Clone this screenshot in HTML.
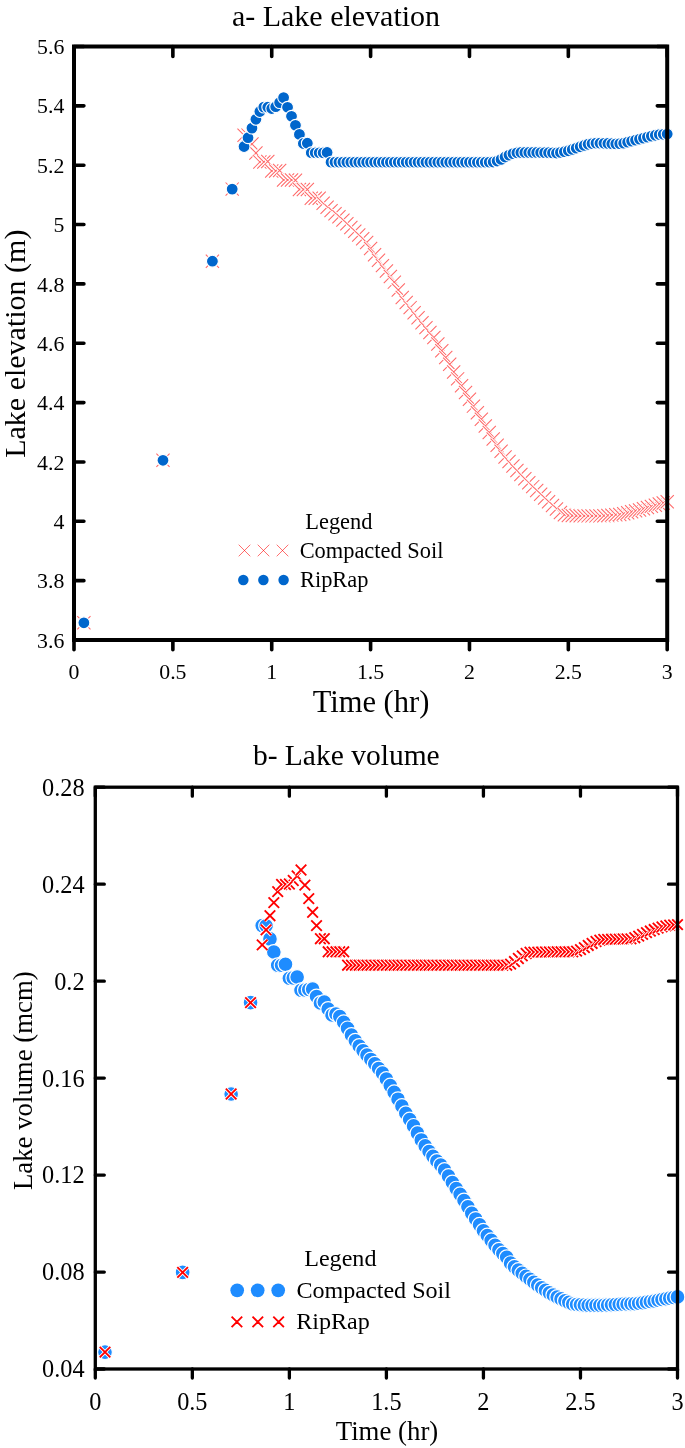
<!DOCTYPE html><html><head><meta charset="utf-8"><title>Lake elevation and volume</title><style>html,body{margin:0;padding:0;background:#fff;width:685px;height:1448px;overflow:hidden;}svg{display:block;will-change:transform;font-family:"Liberation Serif",serif;}</style></head><body><svg width="685" height="1448" viewBox="0 0 685 1448" font-family='"Liberation Serif", serif' fill="#000"><g fill="none"><path d="M77.29 616.2L90.49 629.4M77.29 629.4L90.49 616.2" stroke="#fff" stroke-width="3"/><path d="M77.29 616.2L90.49 629.4M77.29 629.4L90.49 616.2" stroke="rgba(255,0,0,0.6)" stroke-width="1.05"/><path d="M156.38 453.7L169.58 466.9M156.38 466.9L169.58 453.7" stroke="#fff" stroke-width="3"/><path d="M156.38 453.7L169.58 466.9M156.38 466.9L169.58 453.7" stroke="rgba(255,0,0,0.6)" stroke-width="1.05"/><path d="M205.81 254.6L219.01 267.8M205.81 267.8L219.01 254.6" stroke="#fff" stroke-width="3"/><path d="M205.81 254.6L219.01 267.8M205.81 267.8L219.01 254.6" stroke="rgba(255,0,0,0.6)" stroke-width="1.05"/><path d="M225.59 182.5L238.79 195.7M225.59 195.7L238.79 182.5" stroke="#fff" stroke-width="3"/><path d="M225.59 182.5L238.79 195.7M225.59 195.7L238.79 182.5" stroke="rgba(255,0,0,0.6)" stroke-width="1.05"/><path d="M237.45 128.7L250.65 141.9M237.45 141.9L250.65 128.7" stroke="#fff" stroke-width="3"/><path d="M237.45 128.7L250.65 141.9M237.45 141.9L250.65 128.7" stroke="rgba(255,0,0,0.6)" stroke-width="1.05"/><path d="M241.41 128.5L254.61 141.7M241.41 141.7L254.61 128.5" stroke="#fff" stroke-width="3"/><path d="M241.41 128.5L254.61 141.7M241.41 141.7L254.61 128.5" stroke="rgba(255,0,0,0.6)" stroke-width="1.05"/><path d="M245.36 137.4L258.56 150.6M245.36 150.6L258.56 137.4" stroke="#fff" stroke-width="3"/><path d="M245.36 137.4L258.56 150.6M245.36 150.6L258.56 137.4" stroke="rgba(255,0,0,0.6)" stroke-width="1.05"/><path d="M249.31 146.4L262.51 159.6M249.31 159.6L262.51 146.4" stroke="#fff" stroke-width="3"/><path d="M249.31 146.4L262.51 159.6M249.31 159.6L262.51 146.4" stroke="rgba(255,0,0,0.6)" stroke-width="1.05"/><path d="M253.27 155.4L266.47 168.6M253.27 168.6L266.47 155.4" stroke="#fff" stroke-width="3"/><path d="M253.27 155.4L266.47 168.6M253.27 168.6L266.47 155.4" stroke="rgba(255,0,0,0.6)" stroke-width="1.05"/><path d="M257.22 155.4L270.42 168.6M257.22 168.6L270.42 155.4" stroke="#fff" stroke-width="3"/><path d="M257.22 155.4L270.42 168.6M257.22 168.6L270.42 155.4" stroke="rgba(255,0,0,0.6)" stroke-width="1.05"/><path d="M261.18 154.9L274.38 168.1M261.18 168.1L274.38 154.9" stroke="#fff" stroke-width="3"/><path d="M261.18 154.9L274.38 168.1M261.18 168.1L274.38 154.9" stroke="rgba(255,0,0,0.6)" stroke-width="1.05"/><path d="M265.13 164.4L278.33 177.6M265.13 177.6L278.33 164.4" stroke="#fff" stroke-width="3"/><path d="M265.13 164.4L278.33 177.6M265.13 177.6L278.33 164.4" stroke="rgba(255,0,0,0.6)" stroke-width="1.05"/><path d="M269.09 164.4L282.29 177.6M269.09 177.6L282.29 164.4" stroke="#fff" stroke-width="3"/><path d="M269.09 164.4L282.29 177.6M269.09 177.6L282.29 164.4" stroke="rgba(255,0,0,0.6)" stroke-width="1.05"/><path d="M273.04 163.9L286.24 177.1M273.04 177.1L286.24 163.9" stroke="#fff" stroke-width="3"/><path d="M273.04 163.9L286.24 177.1M273.04 177.1L286.24 163.9" stroke="rgba(255,0,0,0.6)" stroke-width="1.05"/><path d="M277 173.4L290.2 186.6M277 186.6L290.2 173.4" stroke="#fff" stroke-width="3"/><path d="M277 173.4L290.2 186.6M277 186.6L290.2 173.4" stroke="rgba(255,0,0,0.6)" stroke-width="1.05"/><path d="M280.95 173.4L294.15 186.6M280.95 186.6L294.15 173.4" stroke="#fff" stroke-width="3"/><path d="M280.95 173.4L294.15 186.6M280.95 186.6L294.15 173.4" stroke="rgba(255,0,0,0.6)" stroke-width="1.05"/><path d="M284.91 173.4L298.11 186.6M284.91 186.6L298.11 173.4" stroke="#fff" stroke-width="3"/><path d="M284.91 173.4L298.11 186.6M284.91 186.6L298.11 173.4" stroke="rgba(255,0,0,0.6)" stroke-width="1.05"/><path d="M288.86 173.7L302.06 186.9M288.86 186.9L302.06 173.7" stroke="#fff" stroke-width="3"/><path d="M288.86 173.7L302.06 186.9M288.86 186.9L302.06 173.7" stroke="rgba(255,0,0,0.6)" stroke-width="1.05"/><path d="M292.82 182.9L306.02 196.1M292.82 196.1L306.02 182.9" stroke="#fff" stroke-width="3"/><path d="M292.82 182.9L306.02 196.1M292.82 196.1L306.02 182.9" stroke="rgba(255,0,0,0.6)" stroke-width="1.05"/><path d="M296.77 182.9L309.97 196.1M296.77 196.1L309.97 182.9" stroke="#fff" stroke-width="3"/><path d="M296.77 182.9L309.97 196.1M296.77 196.1L309.97 182.9" stroke="rgba(255,0,0,0.6)" stroke-width="1.05"/><path d="M300.73 182.9L313.93 196.1M300.73 196.1L313.93 182.9" stroke="#fff" stroke-width="3"/><path d="M300.73 182.9L313.93 196.1M300.73 196.1L313.93 182.9" stroke="rgba(255,0,0,0.6)" stroke-width="1.05"/><path d="M304.68 191.6L317.88 204.8M304.68 204.8L317.88 191.6" stroke="#fff" stroke-width="3"/><path d="M304.68 191.6L317.88 204.8M304.68 204.8L317.88 191.6" stroke="rgba(255,0,0,0.6)" stroke-width="1.05"/><path d="M308.63 191.6L321.83 204.8M308.63 204.8L321.83 191.6" stroke="#fff" stroke-width="3"/><path d="M308.63 191.6L321.83 204.8M308.63 204.8L321.83 191.6" stroke="rgba(255,0,0,0.6)" stroke-width="1.05"/><path d="M312.59 191.6L325.79 204.8M312.59 204.8L325.79 191.6" stroke="#fff" stroke-width="3"/><path d="M312.59 191.6L325.79 204.8M312.59 204.8L325.79 191.6" stroke="rgba(255,0,0,0.6)" stroke-width="1.05"/><path d="M316.54 196.62L329.74 209.82M316.54 209.82L329.74 196.62" stroke="#fff" stroke-width="3"/><path d="M316.54 196.62L329.74 209.82M316.54 209.82L329.74 196.62" stroke="rgba(255,0,0,0.6)" stroke-width="1.05"/><path d="M320.5 200.67L333.7 213.87M320.5 213.87L333.7 200.67" stroke="#fff" stroke-width="3"/><path d="M320.5 200.67L333.7 213.87M320.5 213.87L333.7 200.67" stroke="rgba(255,0,0,0.6)" stroke-width="1.05"/><path d="M324.45 204.02L337.65 217.22M324.45 217.22L337.65 204.02" stroke="#fff" stroke-width="3"/><path d="M324.45 204.02L337.65 217.22M324.45 217.22L337.65 204.02" stroke="rgba(255,0,0,0.6)" stroke-width="1.05"/><path d="M328.41 207.1L341.61 220.3M328.41 220.3L341.61 207.1" stroke="#fff" stroke-width="3"/><path d="M328.41 207.1L341.61 220.3M328.41 220.3L341.61 207.1" stroke="rgba(255,0,0,0.6)" stroke-width="1.05"/><path d="M332.36 210.18L345.56 223.38M332.36 223.38L345.56 210.18" stroke="#fff" stroke-width="3"/><path d="M332.36 210.18L345.56 223.38M332.36 223.38L345.56 210.18" stroke="rgba(255,0,0,0.6)" stroke-width="1.05"/><path d="M336.32 213.52L349.52 226.72M336.32 226.72L349.52 213.52" stroke="#fff" stroke-width="3"/><path d="M336.32 213.52L349.52 226.72M336.32 226.72L349.52 213.52" stroke="rgba(255,0,0,0.6)" stroke-width="1.05"/><path d="M340.27 217.24L353.47 230.44M340.27 230.44L353.47 217.24" stroke="#fff" stroke-width="3"/><path d="M340.27 217.24L353.47 230.44M340.27 230.44L353.47 217.24" stroke="rgba(255,0,0,0.6)" stroke-width="1.05"/><path d="M344.23 220.96L357.43 234.16M344.23 234.16L357.43 220.96" stroke="#fff" stroke-width="3"/><path d="M344.23 220.96L357.43 234.16M344.23 234.16L357.43 220.96" stroke="rgba(255,0,0,0.6)" stroke-width="1.05"/><path d="M348.18 224.68L361.38 237.88M348.18 237.88L361.38 224.68" stroke="#fff" stroke-width="3"/><path d="M348.18 224.68L361.38 237.88M348.18 237.88L361.38 224.68" stroke="rgba(255,0,0,0.6)" stroke-width="1.05"/><path d="M352.14 228.42L365.34 241.62M352.14 241.62L365.34 228.42" stroke="#fff" stroke-width="3"/><path d="M352.14 228.42L365.34 241.62M352.14 241.62L365.34 228.42" stroke="rgba(255,0,0,0.6)" stroke-width="1.05"/><path d="M356.09 232.16L369.29 245.36M356.09 245.36L369.29 232.16" stroke="#fff" stroke-width="3"/><path d="M356.09 232.16L369.29 245.36M356.09 245.36L369.29 232.16" stroke="rgba(255,0,0,0.6)" stroke-width="1.05"/><path d="M360.05 235.9L373.25 249.1M360.05 249.1L373.25 235.9" stroke="#fff" stroke-width="3"/><path d="M360.05 235.9L373.25 249.1M360.05 249.1L373.25 235.9" stroke="rgba(255,0,0,0.6)" stroke-width="1.05"/><path d="M364 241.93L377.2 255.13M364 255.13L377.2 241.93" stroke="#fff" stroke-width="3"/><path d="M364 241.93L377.2 255.13M364 255.13L377.2 241.93" stroke="rgba(255,0,0,0.6)" stroke-width="1.05"/><path d="M367.95 248.19L381.15 261.39M367.95 261.39L381.15 248.19" stroke="#fff" stroke-width="3"/><path d="M367.95 248.19L381.15 261.39M367.95 261.39L381.15 248.19" stroke="rgba(255,0,0,0.6)" stroke-width="1.05"/><path d="M371.91 253.61L385.11 266.81M371.91 266.81L385.11 253.61" stroke="#fff" stroke-width="3"/><path d="M371.91 253.61L385.11 266.81M371.91 266.81L385.11 253.61" stroke="rgba(255,0,0,0.6)" stroke-width="1.05"/><path d="M375.86 259.03L389.06 272.23M375.86 272.23L389.06 259.03" stroke="#fff" stroke-width="3"/><path d="M375.86 259.03L389.06 272.23M375.86 272.23L389.06 259.03" stroke="rgba(255,0,0,0.6)" stroke-width="1.05"/><path d="M379.82 264.45L393.02 277.65M379.82 277.65L393.02 264.45" stroke="#fff" stroke-width="3"/><path d="M379.82 264.45L393.02 277.65M379.82 277.65L393.02 264.45" stroke="rgba(255,0,0,0.6)" stroke-width="1.05"/><path d="M383.77 269.87L396.97 283.07M383.77 283.07L396.97 269.87" stroke="#fff" stroke-width="3"/><path d="M383.77 269.87L396.97 283.07M383.77 283.07L396.97 269.87" stroke="rgba(255,0,0,0.6)" stroke-width="1.05"/><path d="M387.73 275.55L400.93 288.75M387.73 288.75L400.93 275.55" stroke="#fff" stroke-width="3"/><path d="M387.73 275.55L400.93 288.75M387.73 288.75L400.93 275.55" stroke="rgba(255,0,0,0.6)" stroke-width="1.05"/><path d="M391.68 283.41L404.88 296.61M391.68 296.61L404.88 283.41" stroke="#fff" stroke-width="3"/><path d="M391.68 283.41L404.88 296.61M391.68 296.61L404.88 283.41" stroke="rgba(255,0,0,0.6)" stroke-width="1.05"/><path d="M395.64 290.82L408.84 304.02M395.64 304.02L408.84 290.82" stroke="#fff" stroke-width="3"/><path d="M395.64 290.82L408.84 304.02M395.64 304.02L408.84 290.82" stroke="rgba(255,0,0,0.6)" stroke-width="1.05"/><path d="M399.59 295.91L412.79 309.11M399.59 309.11L412.79 295.91" stroke="#fff" stroke-width="3"/><path d="M399.59 295.91L412.79 309.11M399.59 309.11L412.79 295.91" stroke="rgba(255,0,0,0.6)" stroke-width="1.05"/><path d="M403.55 301L416.75 314.2M403.55 314.2L416.75 301" stroke="#fff" stroke-width="3"/><path d="M403.55 301L416.75 314.2M403.55 314.2L416.75 301" stroke="rgba(255,0,0,0.6)" stroke-width="1.05"/><path d="M407.5 306.1L420.7 319.3M407.5 319.3L420.7 306.1" stroke="#fff" stroke-width="3"/><path d="M407.5 306.1L420.7 319.3M407.5 319.3L420.7 306.1" stroke="rgba(255,0,0,0.6)" stroke-width="1.05"/><path d="M411.46 311.15L424.66 324.35M411.46 324.35L424.66 311.15" stroke="#fff" stroke-width="3"/><path d="M411.46 311.15L424.66 324.35M411.46 324.35L424.66 311.15" stroke="rgba(255,0,0,0.6)" stroke-width="1.05"/><path d="M415.41 316.1L428.61 329.3M415.41 329.3L428.61 316.1" stroke="#fff" stroke-width="3"/><path d="M415.41 316.1L428.61 329.3M415.41 329.3L428.61 316.1" stroke="rgba(255,0,0,0.6)" stroke-width="1.05"/><path d="M419.37 321.04L432.57 334.24M419.37 334.24L432.57 321.04" stroke="#fff" stroke-width="3"/><path d="M419.37 321.04L432.57 334.24M419.37 334.24L432.57 321.04" stroke="rgba(255,0,0,0.6)" stroke-width="1.05"/><path d="M423.32 325.99L436.52 339.19M423.32 339.19L436.52 325.99" stroke="#fff" stroke-width="3"/><path d="M423.32 325.99L436.52 339.19M423.32 339.19L436.52 325.99" stroke="rgba(255,0,0,0.6)" stroke-width="1.05"/><path d="M427.27 330.94L440.47 344.14M427.27 344.14L440.47 330.94" stroke="#fff" stroke-width="3"/><path d="M427.27 330.94L440.47 344.14M427.27 344.14L440.47 330.94" stroke="rgba(255,0,0,0.6)" stroke-width="1.05"/><path d="M431.23 337.46L444.43 350.66M431.23 350.66L444.43 337.46" stroke="#fff" stroke-width="3"/><path d="M431.23 337.46L444.43 350.66M431.23 350.66L444.43 337.46" stroke="rgba(255,0,0,0.6)" stroke-width="1.05"/><path d="M435.18 344.21L448.38 357.41M435.18 357.41L448.38 344.21" stroke="#fff" stroke-width="3"/><path d="M435.18 344.21L448.38 357.41M435.18 357.41L448.38 344.21" stroke="rgba(255,0,0,0.6)" stroke-width="1.05"/><path d="M439.14 350.96L452.34 364.16M439.14 364.16L452.34 350.96" stroke="#fff" stroke-width="3"/><path d="M439.14 350.96L452.34 364.16M439.14 364.16L452.34 350.96" stroke="rgba(255,0,0,0.6)" stroke-width="1.05"/><path d="M443.09 357.72L456.29 370.92M443.09 370.92L456.29 357.72" stroke="#fff" stroke-width="3"/><path d="M443.09 357.72L456.29 370.92M443.09 370.92L456.29 357.72" stroke="rgba(255,0,0,0.6)" stroke-width="1.05"/><path d="M447.05 365.33L460.25 378.53M447.05 378.53L460.25 365.33" stroke="#fff" stroke-width="3"/><path d="M447.05 365.33L460.25 378.53M447.05 378.53L460.25 365.33" stroke="rgba(255,0,0,0.6)" stroke-width="1.05"/><path d="M451 372.25L464.2 385.45M451 385.45L464.2 372.25" stroke="#fff" stroke-width="3"/><path d="M451 372.25L464.2 385.45M451 385.45L464.2 372.25" stroke="rgba(255,0,0,0.6)" stroke-width="1.05"/><path d="M454.96 379.07L468.16 392.27M454.96 392.27L468.16 379.07" stroke="#fff" stroke-width="3"/><path d="M454.96 379.07L468.16 392.27M454.96 392.27L468.16 379.07" stroke="rgba(255,0,0,0.6)" stroke-width="1.05"/><path d="M458.91 385.9L472.11 399.1M458.91 399.1L472.11 385.9" stroke="#fff" stroke-width="3"/><path d="M458.91 385.9L472.11 399.1M458.91 399.1L472.11 385.9" stroke="rgba(255,0,0,0.6)" stroke-width="1.05"/><path d="M462.87 392.72L476.07 405.92M462.87 405.92L476.07 392.72" stroke="#fff" stroke-width="3"/><path d="M462.87 392.72L476.07 405.92M462.87 405.92L476.07 392.72" stroke="rgba(255,0,0,0.6)" stroke-width="1.05"/><path d="M466.82 399.55L480.02 412.75M466.82 412.75L480.02 399.55" stroke="#fff" stroke-width="3"/><path d="M466.82 399.55L480.02 412.75M466.82 412.75L480.02 399.55" stroke="rgba(255,0,0,0.6)" stroke-width="1.05"/><path d="M470.78 406.15L483.98 419.35M470.78 419.35L483.98 406.15" stroke="#fff" stroke-width="3"/><path d="M470.78 406.15L483.98 419.35M470.78 419.35L483.98 406.15" stroke="rgba(255,0,0,0.6)" stroke-width="1.05"/><path d="M474.73 412.74L487.93 425.94M474.73 425.94L487.93 412.74" stroke="#fff" stroke-width="3"/><path d="M474.73 412.74L487.93 425.94M474.73 425.94L487.93 412.74" stroke="rgba(255,0,0,0.6)" stroke-width="1.05"/><path d="M478.69 419.32L491.89 432.52M478.69 432.52L491.89 419.32" stroke="#fff" stroke-width="3"/><path d="M478.69 419.32L491.89 432.52M478.69 432.52L491.89 419.32" stroke="rgba(255,0,0,0.6)" stroke-width="1.05"/><path d="M482.64 425.91L495.84 439.11M482.64 439.11L495.84 425.91" stroke="#fff" stroke-width="3"/><path d="M482.64 425.91L495.84 439.11M482.64 439.11L495.84 425.91" stroke="rgba(255,0,0,0.6)" stroke-width="1.05"/><path d="M486.59 432.49L499.79 445.69M486.59 445.69L499.79 432.49" stroke="#fff" stroke-width="3"/><path d="M486.59 432.49L499.79 445.69M486.59 445.69L499.79 432.49" stroke="rgba(255,0,0,0.6)" stroke-width="1.05"/><path d="M490.55 438.59L503.75 451.79M490.55 451.79L503.75 438.59" stroke="#fff" stroke-width="3"/><path d="M490.55 438.59L503.75 451.79M490.55 451.79L503.75 438.59" stroke="rgba(255,0,0,0.6)" stroke-width="1.05"/><path d="M494.5 444.65L507.7 457.85M494.5 457.85L507.7 444.65" stroke="#fff" stroke-width="3"/><path d="M494.5 444.65L507.7 457.85M494.5 457.85L507.7 444.65" stroke="rgba(255,0,0,0.6)" stroke-width="1.05"/><path d="M498.46 450.45L511.66 463.65M498.46 463.65L511.66 450.45" stroke="#fff" stroke-width="3"/><path d="M498.46 450.45L511.66 463.65M498.46 463.65L511.66 450.45" stroke="rgba(255,0,0,0.6)" stroke-width="1.05"/><path d="M502.41 454.93L515.61 468.13M502.41 468.13L515.61 454.93" stroke="#fff" stroke-width="3"/><path d="M502.41 454.93L515.61 468.13M502.41 468.13L515.61 454.93" stroke="rgba(255,0,0,0.6)" stroke-width="1.05"/><path d="M506.37 459.42L519.57 472.62M506.37 472.62L519.57 459.42" stroke="#fff" stroke-width="3"/><path d="M506.37 459.42L519.57 472.62M506.37 472.62L519.57 459.42" stroke="rgba(255,0,0,0.6)" stroke-width="1.05"/><path d="M510.32 463.85L523.52 477.05M510.32 477.05L523.52 463.85" stroke="#fff" stroke-width="3"/><path d="M510.32 463.85L523.52 477.05M510.32 477.05L523.52 463.85" stroke="rgba(255,0,0,0.6)" stroke-width="1.05"/><path d="M514.28 467.96L527.48 481.16M514.28 481.16L527.48 467.96" stroke="#fff" stroke-width="3"/><path d="M514.28 467.96L527.48 481.16M514.28 481.16L527.48 467.96" stroke="rgba(255,0,0,0.6)" stroke-width="1.05"/><path d="M518.23 472.08L531.43 485.28M518.23 485.28L531.43 472.08" stroke="#fff" stroke-width="3"/><path d="M518.23 472.08L531.43 485.28M518.23 485.28L531.43 472.08" stroke="rgba(255,0,0,0.6)" stroke-width="1.05"/><path d="M522.19 476.18L535.39 489.38M522.19 489.38L535.39 476.18" stroke="#fff" stroke-width="3"/><path d="M522.19 476.18L535.39 489.38M522.19 489.38L535.39 476.18" stroke="rgba(255,0,0,0.6)" stroke-width="1.05"/><path d="M526.14 480L539.34 493.2M526.14 493.2L539.34 480" stroke="#fff" stroke-width="3"/><path d="M526.14 480L539.34 493.2M526.14 493.2L539.34 480" stroke="rgba(255,0,0,0.6)" stroke-width="1.05"/><path d="M530.1 483.83L543.3 497.03M530.1 497.03L543.3 483.83" stroke="#fff" stroke-width="3"/><path d="M530.1 483.83L543.3 497.03M530.1 497.03L543.3 483.83" stroke="rgba(255,0,0,0.6)" stroke-width="1.05"/><path d="M534.05 487.66L547.25 500.86M534.05 500.86L547.25 487.66" stroke="#fff" stroke-width="3"/><path d="M534.05 487.66L547.25 500.86M534.05 500.86L547.25 487.66" stroke="rgba(255,0,0,0.6)" stroke-width="1.05"/><path d="M538.01 491.41L551.21 504.61M538.01 504.61L551.21 491.41" stroke="#fff" stroke-width="3"/><path d="M538.01 491.41L551.21 504.61M538.01 504.61L551.21 491.41" stroke="rgba(255,0,0,0.6)" stroke-width="1.05"/><path d="M541.96 495.16L555.16 508.36M541.96 508.36L555.16 495.16" stroke="#fff" stroke-width="3"/><path d="M541.96 495.16L555.16 508.36M541.96 508.36L555.16 495.16" stroke="rgba(255,0,0,0.6)" stroke-width="1.05"/><path d="M545.91 498.81L559.11 512.01M545.91 512.01L559.11 498.81" stroke="#fff" stroke-width="3"/><path d="M545.91 498.81L559.11 512.01M545.91 512.01L559.11 498.81" stroke="rgba(255,0,0,0.6)" stroke-width="1.05"/><path d="M549.87 502.37L563.07 515.57M549.87 515.57L563.07 502.37" stroke="#fff" stroke-width="3"/><path d="M549.87 502.37L563.07 515.57M549.87 515.57L563.07 502.37" stroke="rgba(255,0,0,0.6)" stroke-width="1.05"/><path d="M553.82 505.94L567.02 519.14M553.82 519.14L567.02 505.94" stroke="#fff" stroke-width="3"/><path d="M553.82 505.94L567.02 519.14M553.82 519.14L567.02 505.94" stroke="rgba(255,0,0,0.6)" stroke-width="1.05"/><path d="M557.78 508.18L570.98 521.38M557.78 521.38L570.98 508.18" stroke="#fff" stroke-width="3"/><path d="M557.78 508.18L570.98 521.38M557.78 521.38L570.98 508.18" stroke="rgba(255,0,0,0.6)" stroke-width="1.05"/><path d="M561.73 508.89L574.93 522.09M561.73 522.09L574.93 508.89" stroke="#fff" stroke-width="3"/><path d="M561.73 508.89L574.93 522.09M561.73 522.09L574.93 508.89" stroke="rgba(255,0,0,0.6)" stroke-width="1.05"/><path d="M565.69 509.02L578.89 522.22M565.69 522.22L578.89 509.02" stroke="#fff" stroke-width="3"/><path d="M565.69 509.02L578.89 522.22M565.69 522.22L578.89 509.02" stroke="rgba(255,0,0,0.6)" stroke-width="1.05"/><path d="M569.64 509.15L582.84 522.35M569.64 522.35L582.84 509.15" stroke="#fff" stroke-width="3"/><path d="M569.64 509.15L582.84 522.35M569.64 522.35L582.84 509.15" stroke="rgba(255,0,0,0.6)" stroke-width="1.05"/><path d="M573.6 509.27L586.8 522.47M573.6 522.47L586.8 509.27" stroke="#fff" stroke-width="3"/><path d="M573.6 509.27L586.8 522.47M573.6 522.47L586.8 509.27" stroke="rgba(255,0,0,0.6)" stroke-width="1.05"/><path d="M577.55 509.3L590.75 522.5M577.55 522.5L590.75 509.3" stroke="#fff" stroke-width="3"/><path d="M577.55 509.3L590.75 522.5M577.55 522.5L590.75 509.3" stroke="rgba(255,0,0,0.6)" stroke-width="1.05"/><path d="M581.51 509.3L594.71 522.5M581.51 522.5L594.71 509.3" stroke="#fff" stroke-width="3"/><path d="M581.51 509.3L594.71 522.5M581.51 522.5L594.71 509.3" stroke="rgba(255,0,0,0.6)" stroke-width="1.05"/><path d="M585.46 509.3L598.66 522.5M585.46 522.5L598.66 509.3" stroke="#fff" stroke-width="3"/><path d="M585.46 509.3L598.66 522.5M585.46 522.5L598.66 509.3" stroke="rgba(255,0,0,0.6)" stroke-width="1.05"/><path d="M589.42 509.3L602.62 522.5M589.42 522.5L602.62 509.3" stroke="#fff" stroke-width="3"/><path d="M589.42 509.3L602.62 522.5M589.42 522.5L602.62 509.3" stroke="rgba(255,0,0,0.6)" stroke-width="1.05"/><path d="M593.37 509.3L606.57 522.5M593.37 522.5L606.57 509.3" stroke="#fff" stroke-width="3"/><path d="M593.37 509.3L606.57 522.5M593.37 522.5L606.57 509.3" stroke="rgba(255,0,0,0.6)" stroke-width="1.05"/><path d="M597.33 509.19L610.53 522.39M597.33 522.39L610.53 509.19" stroke="#fff" stroke-width="3"/><path d="M597.33 509.19L610.53 522.39M597.33 522.39L610.53 509.19" stroke="rgba(255,0,0,0.6)" stroke-width="1.05"/><path d="M601.28 508.85L614.48 522.05M601.28 522.05L614.48 508.85" stroke="#fff" stroke-width="3"/><path d="M601.28 508.85L614.48 522.05M601.28 522.05L614.48 508.85" stroke="rgba(255,0,0,0.6)" stroke-width="1.05"/><path d="M605.23 508.52L618.43 521.72M605.23 521.72L618.43 508.52" stroke="#fff" stroke-width="3"/><path d="M605.23 508.52L618.43 521.72M605.23 521.72L618.43 508.52" stroke="rgba(255,0,0,0.6)" stroke-width="1.05"/><path d="M609.19 508.18L622.39 521.38M609.19 521.38L622.39 508.18" stroke="#fff" stroke-width="3"/><path d="M609.19 508.18L622.39 521.38M609.19 521.38L622.39 508.18" stroke="rgba(255,0,0,0.6)" stroke-width="1.05"/><path d="M613.14 507.85L626.34 521.05M613.14 521.05L626.34 507.85" stroke="#fff" stroke-width="3"/><path d="M613.14 507.85L626.34 521.05M613.14 521.05L626.34 507.85" stroke="rgba(255,0,0,0.6)" stroke-width="1.05"/><path d="M617.1 507.16L630.3 520.36M617.1 520.36L630.3 507.16" stroke="#fff" stroke-width="3"/><path d="M617.1 507.16L630.3 520.36M617.1 520.36L630.3 507.16" stroke="rgba(255,0,0,0.6)" stroke-width="1.05"/><path d="M621.05 506.2L634.25 519.4M621.05 519.4L634.25 506.2" stroke="#fff" stroke-width="3"/><path d="M621.05 506.2L634.25 519.4M621.05 519.4L634.25 506.2" stroke="rgba(255,0,0,0.6)" stroke-width="1.05"/><path d="M625.01 505.24L638.21 518.44M625.01 518.44L638.21 505.24" stroke="#fff" stroke-width="3"/><path d="M625.01 505.24L638.21 518.44M625.01 518.44L638.21 505.24" stroke="rgba(255,0,0,0.6)" stroke-width="1.05"/><path d="M628.96 504.28L642.16 517.48M628.96 517.48L642.16 504.28" stroke="#fff" stroke-width="3"/><path d="M628.96 504.28L642.16 517.48M628.96 517.48L642.16 504.28" stroke="rgba(255,0,0,0.6)" stroke-width="1.05"/><path d="M632.92 503.31L646.12 516.51M632.92 516.51L646.12 503.31" stroke="#fff" stroke-width="3"/><path d="M632.92 503.31L646.12 516.51M632.92 516.51L646.12 503.31" stroke="rgba(255,0,0,0.6)" stroke-width="1.05"/><path d="M636.87 502.17L650.07 515.37M636.87 515.37L650.07 502.17" stroke="#fff" stroke-width="3"/><path d="M636.87 502.17L650.07 515.37M636.87 515.37L650.07 502.17" stroke="rgba(255,0,0,0.6)" stroke-width="1.05"/><path d="M640.83 500.97L654.03 514.17M640.83 514.17L654.03 500.97" stroke="#fff" stroke-width="3"/><path d="M640.83 500.97L654.03 514.17M640.83 514.17L654.03 500.97" stroke="rgba(255,0,0,0.6)" stroke-width="1.05"/><path d="M644.78 499.76L657.98 512.96M644.78 512.96L657.98 499.76" stroke="#fff" stroke-width="3"/><path d="M644.78 499.76L657.98 512.96M644.78 512.96L657.98 499.76" stroke="rgba(255,0,0,0.6)" stroke-width="1.05"/><path d="M648.74 498.59L661.94 511.79M648.74 511.79L661.94 498.59" stroke="#fff" stroke-width="3"/><path d="M648.74 498.59L661.94 511.79M648.74 511.79L661.94 498.59" stroke="rgba(255,0,0,0.6)" stroke-width="1.05"/><path d="M652.69 497.47L665.89 510.67M652.69 510.67L665.89 497.47" stroke="#fff" stroke-width="3"/><path d="M652.69 497.47L665.89 510.67M652.69 510.67L665.89 497.47" stroke="rgba(255,0,0,0.6)" stroke-width="1.05"/><path d="M656.65 496.35L669.85 509.55M656.65 509.55L669.85 496.35" stroke="#fff" stroke-width="3"/><path d="M656.65 496.35L669.85 509.55M656.65 509.55L669.85 496.35" stroke="rgba(255,0,0,0.6)" stroke-width="1.05"/><path d="M660.6 495.23L673.8 508.43M660.6 508.43L673.8 495.23" stroke="#fff" stroke-width="3"/><path d="M660.6 495.23L673.8 508.43M660.6 508.43L673.8 495.23" stroke="rgba(255,0,0,0.6)" stroke-width="1.05"/></g><g fill="#0066cc" stroke="#fff" stroke-width="1.1"><circle cx="83.89" cy="622.8" r="5.95"/><circle cx="162.98" cy="460.3" r="5.95"/><circle cx="212.41" cy="261.2" r="5.95"/><circle cx="232.19" cy="189.1" r="5.95"/><circle cx="244.05" cy="146.5" r="5.95"/><circle cx="248.01" cy="137.7" r="5.95"/><circle cx="251.96" cy="128.1" r="5.95"/><circle cx="255.91" cy="119.3" r="5.95"/><circle cx="259.87" cy="111.5" r="5.95"/><circle cx="263.82" cy="107.1" r="5.95"/><circle cx="267.78" cy="107.2" r="5.95"/><circle cx="271.73" cy="108.5" r="5.95"/><circle cx="275.69" cy="106.7" r="5.95"/><circle cx="279.64" cy="102.6" r="5.95"/><circle cx="283.6" cy="97.6" r="5.95"/><circle cx="287.55" cy="107.3" r="5.95"/><circle cx="291.51" cy="116.3" r="5.95"/><circle cx="295.46" cy="125.3" r="5.95"/><circle cx="299.42" cy="134.4" r="5.95"/><circle cx="303.37" cy="143.5" r="5.95"/><circle cx="307.33" cy="143.2" r="5.95"/><circle cx="311.28" cy="152.8" r="5.95"/><circle cx="315.23" cy="152.8" r="5.95"/><circle cx="319.19" cy="152.8" r="5.95"/><circle cx="323.14" cy="152.8" r="5.95"/><circle cx="327.1" cy="152.5" r="5.95"/><circle cx="331.05" cy="162.14" r="5.95"/><circle cx="335.01" cy="162.14" r="5.95"/><circle cx="338.96" cy="162.14" r="5.95"/><circle cx="342.92" cy="162.14" r="5.95"/><circle cx="346.87" cy="162.14" r="5.95"/><circle cx="350.83" cy="162.14" r="5.95"/><circle cx="354.78" cy="162.15" r="5.95"/><circle cx="358.74" cy="162.15" r="5.95"/><circle cx="362.69" cy="162.15" r="5.95"/><circle cx="366.65" cy="162.15" r="5.95"/><circle cx="370.6" cy="162.15" r="5.95"/><circle cx="374.55" cy="162.15" r="5.95"/><circle cx="378.51" cy="162.16" r="5.95"/><circle cx="382.46" cy="162.16" r="5.95"/><circle cx="386.42" cy="162.16" r="5.95"/><circle cx="390.37" cy="162.16" r="5.95"/><circle cx="394.33" cy="162.16" r="5.95"/><circle cx="398.28" cy="162.16" r="5.95"/><circle cx="402.24" cy="162.16" r="5.95"/><circle cx="406.19" cy="162.17" r="5.95"/><circle cx="410.15" cy="162.17" r="5.95"/><circle cx="414.1" cy="162.17" r="5.95"/><circle cx="418.06" cy="162.17" r="5.95"/><circle cx="422.01" cy="162.17" r="5.95"/><circle cx="425.97" cy="162.17" r="5.95"/><circle cx="429.92" cy="162.18" r="5.95"/><circle cx="433.87" cy="162.18" r="5.95"/><circle cx="437.83" cy="162.18" r="5.95"/><circle cx="441.78" cy="162.18" r="5.95"/><circle cx="445.74" cy="162.18" r="5.95"/><circle cx="449.69" cy="162.18" r="5.95"/><circle cx="453.65" cy="162.19" r="5.95"/><circle cx="457.6" cy="162.19" r="5.95"/><circle cx="461.56" cy="162.19" r="5.95"/><circle cx="465.51" cy="162.19" r="5.95"/><circle cx="469.47" cy="162.19" r="5.95"/><circle cx="473.42" cy="162.19" r="5.95"/><circle cx="477.38" cy="162.2" r="5.95"/><circle cx="481.33" cy="162.2" r="5.95"/><circle cx="485.29" cy="162.2" r="5.95"/><circle cx="489.24" cy="162.15" r="5.95"/><circle cx="493.19" cy="161.98" r="5.95"/><circle cx="497.15" cy="161.04" r="5.95"/><circle cx="501.1" cy="159.44" r="5.95"/><circle cx="505.06" cy="157.01" r="5.95"/><circle cx="509.01" cy="155.08" r="5.95"/><circle cx="512.97" cy="153.6" r="5.95"/><circle cx="516.92" cy="152.8" r="5.95"/><circle cx="520.88" cy="152.5" r="5.95"/><circle cx="524.83" cy="152.5" r="5.95"/><circle cx="528.79" cy="152.5" r="5.95"/><circle cx="532.74" cy="152.5" r="5.95"/><circle cx="536.7" cy="152.5" r="5.95"/><circle cx="540.65" cy="152.55" r="5.95"/><circle cx="544.61" cy="152.66" r="5.95"/><circle cx="548.56" cy="152.77" r="5.95"/><circle cx="552.51" cy="152.88" r="5.95"/><circle cx="556.47" cy="152.99" r="5.95"/><circle cx="560.42" cy="152.4" r="5.95"/><circle cx="564.38" cy="151.71" r="5.95"/><circle cx="568.33" cy="150.76" r="5.95"/><circle cx="572.29" cy="149.46" r="5.95"/><circle cx="576.24" cy="148.13" r="5.95"/><circle cx="580.2" cy="146.77" r="5.95"/><circle cx="584.15" cy="145.47" r="5.95"/><circle cx="588.11" cy="144.23" r="5.95"/><circle cx="592.06" cy="143.55" r="5.95"/><circle cx="596.02" cy="143.13" r="5.95"/><circle cx="599.97" cy="143.21" r="5.95"/><circle cx="603.93" cy="143.3" r="5.95"/><circle cx="607.88" cy="143.51" r="5.95"/><circle cx="611.83" cy="143.73" r="5.95"/><circle cx="615.79" cy="143.85" r="5.95"/><circle cx="619.74" cy="143.6" r="5.95"/><circle cx="623.7" cy="143.21" r="5.95"/><circle cx="627.65" cy="142.16" r="5.95"/><circle cx="631.61" cy="141.1" r="5.95"/><circle cx="635.56" cy="140.09" r="5.95"/><circle cx="639.52" cy="139.08" r="5.95"/><circle cx="643.47" cy="138.07" r="5.95"/><circle cx="647.43" cy="137.06" r="5.95"/><circle cx="651.38" cy="136.11" r="5.95"/><circle cx="655.34" cy="135.27" r="5.95"/><circle cx="659.29" cy="134.55" r="5.95"/><circle cx="663.25" cy="134.3" r="5.95"/><circle cx="667.2" cy="134.05" r="5.95"/></g><rect x="74" y="46.5" width="593.2" height="593.5" fill="none" stroke="#000" stroke-width="4"/><path d="M74 640V649.8M74 46.5V56.4M172.87 640V649.8M172.87 46.5V56.4M271.73 640V649.8M271.73 46.5V56.4M370.6 640V649.8M370.6 46.5V56.4M469.47 640V649.8M469.47 46.5V56.4M568.33 640V649.8M568.33 46.5V56.4M667.2 640V649.8M667.2 46.5V56.4M74 46.5H83.9M667.2 46.5H657.3M74 105.85H83.9M667.2 105.85H657.3M74 165.2H83.9M667.2 165.2H657.3M74 224.55H83.9M667.2 224.55H657.3M74 283.9H83.9M667.2 283.9H657.3M74 343.25H83.9M667.2 343.25H657.3M74 402.6H83.9M667.2 402.6H657.3M74 461.95H83.9M667.2 461.95H657.3M74 521.3H83.9M667.2 521.3H657.3M74 580.65H83.9M667.2 580.65H657.3M74 640H83.9M667.2 640H657.3" stroke="#000" stroke-width="3.6" stroke-linecap="round" fill="none"/><text x="74" y="679.3" font-size="21.8" text-anchor="middle">0</text><text x="172.87" y="679.3" font-size="21.8" text-anchor="middle">0.5</text><text x="271.73" y="679.3" font-size="21.8" text-anchor="middle">1</text><text x="370.6" y="679.3" font-size="21.8" text-anchor="middle">1.5</text><text x="469.47" y="679.3" font-size="21.8" text-anchor="middle">2</text><text x="568.33" y="679.3" font-size="21.8" text-anchor="middle">2.5</text><text x="667.2" y="679.3" font-size="21.8" text-anchor="middle">3</text><text x="64.3" y="54.1" font-size="21.8" text-anchor="end">5.6</text><text x="64.3" y="113.45" font-size="21.8" text-anchor="end">5.4</text><text x="64.3" y="172.8" font-size="21.8" text-anchor="end">5.2</text><text x="64.3" y="232.15" font-size="21.8" text-anchor="end">5</text><text x="64.3" y="291.5" font-size="21.8" text-anchor="end">4.8</text><text x="64.3" y="350.85" font-size="21.8" text-anchor="end">4.6</text><text x="64.3" y="410.2" font-size="21.8" text-anchor="end">4.4</text><text x="64.3" y="469.55" font-size="21.8" text-anchor="end">4.2</text><text x="64.3" y="528.9" font-size="21.8" text-anchor="end">4</text><text x="64.3" y="588.25" font-size="21.8" text-anchor="end">3.8</text><text x="64.3" y="647.6" font-size="21.8" text-anchor="end">3.6</text><text x="336" y="25.9" font-size="30" text-anchor="middle">a- Lake elevation</text><text x="371" y="711.9" font-size="30.5" text-anchor="middle">Time (hr)</text><text transform="translate(25.2,343.7) rotate(-90)" font-size="30" text-anchor="middle">Lake elevation (m)</text><text x="305.3" y="528.7" font-size="22.4" text-anchor="start">Legend</text><text x="299.7" y="557.9" font-size="22.4" text-anchor="start">Compacted Soil</text><text x="300" y="587.3" font-size="22.4" text-anchor="start">RipRap</text><path d="M238.7 544.7L250.3 556.3M238.7 556.3L250.3 544.7M257.7 544.7L269.3 556.3M257.7 556.3L269.3 544.7M276.7 544.7L288.3 556.3M276.7 556.3L288.3 544.7" stroke="rgba(255,0,0,0.6)" stroke-width="0.95" fill="none"/><circle cx="243.3" cy="580" r="5.25" fill="#0066cc"/><circle cx="263.4" cy="580" r="5.25" fill="#0066cc"/><circle cx="283.6" cy="580" r="5.25" fill="#0066cc"/><g fill="#1e8cff" stroke="#fff" stroke-width="1.2"><circle cx="105" cy="1352.1" r="7.4"/><circle cx="182.63" cy="1272.4" r="7.4"/><circle cx="231.15" cy="1094" r="7.4"/><circle cx="250.55" cy="1002.6" r="7.4"/><circle cx="262.2" cy="925.6" r="7.4"/><circle cx="266.08" cy="925.8" r="7.4"/><circle cx="269.96" cy="938.9" r="7.4"/><circle cx="273.84" cy="952" r="7.4"/><circle cx="277.72" cy="965.2" r="7.4"/><circle cx="281.6" cy="965.2" r="7.4"/><circle cx="285.49" cy="964.3" r="7.4"/><circle cx="289.37" cy="978.3" r="7.4"/><circle cx="293.25" cy="977.9" r="7.4"/><circle cx="297.13" cy="977" r="7.4"/><circle cx="301.01" cy="990.3" r="7.4"/><circle cx="304.89" cy="990" r="7.4"/><circle cx="308.77" cy="989.5" r="7.4"/><circle cx="312.65" cy="989" r="7.4"/><circle cx="316.54" cy="996.5" r="7.4"/><circle cx="320.42" cy="1003" r="7.4"/><circle cx="324.3" cy="1002" r="7.4"/><circle cx="328.18" cy="1009" r="7.4"/><circle cx="332.06" cy="1015" r="7.4"/><circle cx="335.94" cy="1014" r="7.4"/><circle cx="339.82" cy="1016.6" r="7.4"/><circle cx="343.71" cy="1022.3" r="7.4"/><circle cx="347.59" cy="1028.4" r="7.4"/><circle cx="351.47" cy="1035.01" r="7.4"/><circle cx="355.35" cy="1040.73" r="7.4"/><circle cx="359.23" cy="1045.98" r="7.4"/><circle cx="363.11" cy="1050.72" r="7.4"/><circle cx="366.99" cy="1055.11" r="7.4"/><circle cx="370.87" cy="1059.43" r="7.4"/><circle cx="374.76" cy="1063.87" r="7.4"/><circle cx="378.64" cy="1068.49" r="7.4"/><circle cx="382.52" cy="1073.12" r="7.4"/><circle cx="386.4" cy="1078.94" r="7.4"/><circle cx="390.28" cy="1085.6" r="7.4"/><circle cx="394.16" cy="1092.36" r="7.4"/><circle cx="398.04" cy="1099.18" r="7.4"/><circle cx="401.93" cy="1106.11" r="7.4"/><circle cx="405.81" cy="1113.23" r="7.4"/><circle cx="409.69" cy="1119.56" r="7.4"/><circle cx="413.57" cy="1125.92" r="7.4"/><circle cx="417.45" cy="1133.07" r="7.4"/><circle cx="421.33" cy="1139.93" r="7.4"/><circle cx="425.21" cy="1145.91" r="7.4"/><circle cx="429.09" cy="1151.55" r="7.4"/><circle cx="432.98" cy="1156.35" r="7.4"/><circle cx="436.86" cy="1160.94" r="7.4"/><circle cx="440.74" cy="1165.08" r="7.4"/><circle cx="444.62" cy="1169.96" r="7.4"/><circle cx="448.5" cy="1176.12" r="7.4"/><circle cx="452.38" cy="1182.51" r="7.4"/><circle cx="456.26" cy="1188.65" r="7.4"/><circle cx="460.15" cy="1194.36" r="7.4"/><circle cx="464.03" cy="1200.44" r="7.4"/><circle cx="467.91" cy="1206.84" r="7.4"/><circle cx="471.79" cy="1213.37" r="7.4"/><circle cx="475.67" cy="1218.93" r="7.4"/><circle cx="479.55" cy="1224.84" r="7.4"/><circle cx="483.43" cy="1230.7" r="7.4"/><circle cx="487.31" cy="1235.56" r="7.4"/><circle cx="491.2" cy="1240.35" r="7.4"/><circle cx="495.08" cy="1245.24" r="7.4"/><circle cx="498.96" cy="1249.74" r="7.4"/><circle cx="502.84" cy="1253.62" r="7.4"/><circle cx="506.72" cy="1257.19" r="7.4"/><circle cx="510.6" cy="1263.13" r="7.4"/><circle cx="514.48" cy="1266.85" r="7.4"/><circle cx="518.37" cy="1270.08" r="7.4"/><circle cx="522.25" cy="1273.31" r="7.4"/><circle cx="526.13" cy="1276.4" r="7.4"/><circle cx="530.01" cy="1279.31" r="7.4"/><circle cx="533.89" cy="1282.22" r="7.4"/><circle cx="537.77" cy="1285.11" r="7.4"/><circle cx="541.65" cy="1287.69" r="7.4"/><circle cx="545.53" cy="1290.27" r="7.4"/><circle cx="549.42" cy="1292.85" r="7.4"/><circle cx="553.3" cy="1295" r="7.4"/><circle cx="557.18" cy="1296.94" r="7.4"/><circle cx="561.06" cy="1298.88" r="7.4"/><circle cx="564.94" cy="1300.74" r="7.4"/><circle cx="568.82" cy="1302.37" r="7.4"/><circle cx="572.7" cy="1304.01" r="7.4"/><circle cx="576.59" cy="1304.51" r="7.4"/><circle cx="580.47" cy="1304.77" r="7.4"/><circle cx="584.35" cy="1305.04" r="7.4"/><circle cx="588.23" cy="1305.2" r="7.4"/><circle cx="592.11" cy="1305.2" r="7.4"/><circle cx="595.99" cy="1305.2" r="7.4"/><circle cx="599.87" cy="1305.2" r="7.4"/><circle cx="603.75" cy="1305.19" r="7.4"/><circle cx="607.64" cy="1304.98" r="7.4"/><circle cx="611.52" cy="1304.78" r="7.4"/><circle cx="615.4" cy="1304.57" r="7.4"/><circle cx="619.28" cy="1304.36" r="7.4"/><circle cx="623.16" cy="1304.17" r="7.4"/><circle cx="627.04" cy="1303.98" r="7.4"/><circle cx="630.92" cy="1303.8" r="7.4"/><circle cx="634.81" cy="1303.61" r="7.4"/><circle cx="638.69" cy="1303.26" r="7.4"/><circle cx="642.57" cy="1302.69" r="7.4"/><circle cx="646.45" cy="1302.11" r="7.4"/><circle cx="650.33" cy="1301.53" r="7.4"/><circle cx="654.21" cy="1300.94" r="7.4"/><circle cx="658.09" cy="1300.22" r="7.4"/><circle cx="661.97" cy="1299.5" r="7.4"/><circle cx="665.86" cy="1298.79" r="7.4"/><circle cx="669.74" cy="1298.13" r="7.4"/><circle cx="673.62" cy="1297.5" r="7.4"/><circle cx="677.5" cy="1296.88" r="7.4"/></g><g fill="none"><path d="M99.7 1346.8L110.3 1357.4M99.7 1357.4L110.3 1346.8" stroke="#fff" stroke-width="3.6"/><path d="M99.7 1346.8L110.3 1357.4M99.7 1357.4L110.3 1346.8" stroke="#ff0000" stroke-width="1.85"/><path d="M177.33 1267.1L187.93 1277.7M177.33 1277.7L187.93 1267.1" stroke="#fff" stroke-width="3.6"/><path d="M177.33 1267.1L187.93 1277.7M177.33 1277.7L187.93 1267.1" stroke="#ff0000" stroke-width="1.85"/><path d="M225.85 1088.7L236.45 1099.3M225.85 1099.3L236.45 1088.7" stroke="#fff" stroke-width="3.6"/><path d="M225.85 1088.7L236.45 1099.3M225.85 1099.3L236.45 1088.7" stroke="#ff0000" stroke-width="1.85"/><path d="M245.25 997.3L255.85 1007.9M245.25 1007.9L255.85 997.3" stroke="#fff" stroke-width="3.6"/><path d="M245.25 997.3L255.85 1007.9M245.25 1007.9L255.85 997.3" stroke="#ff0000" stroke-width="1.85"/><path d="M256.9 939.6L267.5 950.2M256.9 950.2L267.5 939.6" stroke="#fff" stroke-width="3.6"/><path d="M256.9 939.6L267.5 950.2M256.9 950.2L267.5 939.6" stroke="#ff0000" stroke-width="1.85"/><path d="M260.78 924.6L271.38 935.2M260.78 935.2L271.38 924.6" stroke="#fff" stroke-width="3.6"/><path d="M260.78 924.6L271.38 935.2M260.78 935.2L271.38 924.6" stroke="#ff0000" stroke-width="1.85"/><path d="M264.66 910.4L275.26 921M264.66 921L275.26 910.4" stroke="#fff" stroke-width="3.6"/><path d="M264.66 910.4L275.26 921M264.66 921L275.26 910.4" stroke="#ff0000" stroke-width="1.85"/><path d="M268.54 897.3L279.14 907.9M268.54 907.9L279.14 897.3" stroke="#fff" stroke-width="3.6"/><path d="M268.54 897.3L279.14 907.9M268.54 907.9L279.14 897.3" stroke="#ff0000" stroke-width="1.85"/><path d="M272.42 886.3L283.02 896.9M272.42 896.9L283.02 886.3" stroke="#fff" stroke-width="3.6"/><path d="M272.42 886.3L283.02 896.9M272.42 896.9L283.02 886.3" stroke="#ff0000" stroke-width="1.85"/><path d="M276.3 879.2L286.9 889.8M276.3 889.8L286.9 879.2" stroke="#fff" stroke-width="3.6"/><path d="M276.3 879.2L286.9 889.8M276.3 889.8L286.9 879.2" stroke="#ff0000" stroke-width="1.85"/><path d="M280.19 879.2L290.79 889.8M280.19 889.8L290.79 879.2" stroke="#fff" stroke-width="3.6"/><path d="M280.19 879.2L290.79 889.8M280.19 889.8L290.79 879.2" stroke="#ff0000" stroke-width="1.85"/><path d="M284.07 878.7L294.67 889.3M284.07 889.3L294.67 878.7" stroke="#fff" stroke-width="3.6"/><path d="M284.07 878.7L294.67 889.3M284.07 889.3L294.67 878.7" stroke="#ff0000" stroke-width="1.85"/><path d="M287.95 875.2L298.55 885.8M287.95 885.8L298.55 875.2" stroke="#fff" stroke-width="3.6"/><path d="M287.95 875.2L298.55 885.8M287.95 885.8L298.55 875.2" stroke="#ff0000" stroke-width="1.85"/><path d="M291.83 870.7L302.43 881.3M291.83 881.3L302.43 870.7" stroke="#fff" stroke-width="3.6"/><path d="M291.83 870.7L302.43 881.3M291.83 881.3L302.43 870.7" stroke="#ff0000" stroke-width="1.85"/><path d="M295.71 864.7L306.31 875.3M295.71 875.3L306.31 864.7" stroke="#fff" stroke-width="3.6"/><path d="M295.71 864.7L306.31 875.3M295.71 875.3L306.31 864.7" stroke="#ff0000" stroke-width="1.85"/><path d="M299.59 879.8L310.19 890.4M299.59 890.4L310.19 879.8" stroke="#fff" stroke-width="3.6"/><path d="M299.59 879.8L310.19 890.4M299.59 890.4L310.19 879.8" stroke="#ff0000" stroke-width="1.85"/><path d="M303.47 893.3L314.07 903.9M303.47 903.9L314.07 893.3" stroke="#fff" stroke-width="3.6"/><path d="M303.47 893.3L314.07 903.9M303.47 903.9L314.07 893.3" stroke="#ff0000" stroke-width="1.85"/><path d="M307.35 907L317.95 917.6M307.35 917.6L317.95 907" stroke="#fff" stroke-width="3.6"/><path d="M307.35 907L317.95 917.6M307.35 917.6L317.95 907" stroke="#ff0000" stroke-width="1.85"/><path d="M311.24 920.3L321.84 930.9M311.24 930.9L321.84 920.3" stroke="#fff" stroke-width="3.6"/><path d="M311.24 920.3L321.84 930.9M311.24 930.9L321.84 920.3" stroke="#ff0000" stroke-width="1.85"/><path d="M315.12 933.4L325.72 944M315.12 944L325.72 933.4" stroke="#fff" stroke-width="3.6"/><path d="M315.12 933.4L325.72 944M315.12 944L325.72 933.4" stroke="#ff0000" stroke-width="1.85"/><path d="M319 933.4L329.6 944M319 944L329.6 933.4" stroke="#fff" stroke-width="3.6"/><path d="M319 933.4L329.6 944M319 944L329.6 933.4" stroke="#ff0000" stroke-width="1.85"/><path d="M322.88 946.5L333.48 957.1M322.88 957.1L333.48 946.5" stroke="#fff" stroke-width="3.6"/><path d="M322.88 946.5L333.48 957.1M322.88 957.1L333.48 946.5" stroke="#ff0000" stroke-width="1.85"/><path d="M326.76 946.5L337.36 957.1M326.76 957.1L337.36 946.5" stroke="#fff" stroke-width="3.6"/><path d="M326.76 946.5L337.36 957.1M326.76 957.1L337.36 946.5" stroke="#ff0000" stroke-width="1.85"/><path d="M330.64 946.5L341.24 957.1M330.64 957.1L341.24 946.5" stroke="#fff" stroke-width="3.6"/><path d="M330.64 946.5L341.24 957.1M330.64 957.1L341.24 946.5" stroke="#ff0000" stroke-width="1.85"/><path d="M334.52 946.5L345.12 957.1M334.52 957.1L345.12 946.5" stroke="#fff" stroke-width="3.6"/><path d="M334.52 946.5L345.12 957.1M334.52 957.1L345.12 946.5" stroke="#ff0000" stroke-width="1.85"/><path d="M338.41 946.5L349.01 957.1M338.41 957.1L349.01 946.5" stroke="#fff" stroke-width="3.6"/><path d="M338.41 946.5L349.01 957.1M338.41 957.1L349.01 946.5" stroke="#ff0000" stroke-width="1.85"/><path d="M342.29 959.9L352.89 970.5M342.29 970.5L352.89 959.9" stroke="#fff" stroke-width="3.6"/><path d="M342.29 959.9L352.89 970.5M342.29 970.5L352.89 959.9" stroke="#ff0000" stroke-width="1.85"/><path d="M346.17 959.9L356.77 970.5M346.17 970.5L356.77 959.9" stroke="#fff" stroke-width="3.6"/><path d="M346.17 959.9L356.77 970.5M346.17 970.5L356.77 959.9" stroke="#ff0000" stroke-width="1.85"/><path d="M350.05 959.9L360.65 970.5M350.05 970.5L360.65 959.9" stroke="#fff" stroke-width="3.6"/><path d="M350.05 959.9L360.65 970.5M350.05 970.5L360.65 959.9" stroke="#ff0000" stroke-width="1.85"/><path d="M353.93 959.9L364.53 970.5M353.93 970.5L364.53 959.9" stroke="#fff" stroke-width="3.6"/><path d="M353.93 959.9L364.53 970.5M353.93 970.5L364.53 959.9" stroke="#ff0000" stroke-width="1.85"/><path d="M357.81 959.9L368.41 970.5M357.81 970.5L368.41 959.9" stroke="#fff" stroke-width="3.6"/><path d="M357.81 959.9L368.41 970.5M357.81 970.5L368.41 959.9" stroke="#ff0000" stroke-width="1.85"/><path d="M361.69 959.9L372.29 970.5M361.69 970.5L372.29 959.9" stroke="#fff" stroke-width="3.6"/><path d="M361.69 959.9L372.29 970.5M361.69 970.5L372.29 959.9" stroke="#ff0000" stroke-width="1.85"/><path d="M365.57 959.9L376.17 970.5M365.57 970.5L376.17 959.9" stroke="#fff" stroke-width="3.6"/><path d="M365.57 959.9L376.17 970.5M365.57 970.5L376.17 959.9" stroke="#ff0000" stroke-width="1.85"/><path d="M369.46 959.9L380.06 970.5M369.46 970.5L380.06 959.9" stroke="#fff" stroke-width="3.6"/><path d="M369.46 959.9L380.06 970.5M369.46 970.5L380.06 959.9" stroke="#ff0000" stroke-width="1.85"/><path d="M373.34 959.9L383.94 970.5M373.34 970.5L383.94 959.9" stroke="#fff" stroke-width="3.6"/><path d="M373.34 959.9L383.94 970.5M373.34 970.5L383.94 959.9" stroke="#ff0000" stroke-width="1.85"/><path d="M377.22 959.9L387.82 970.5M377.22 970.5L387.82 959.9" stroke="#fff" stroke-width="3.6"/><path d="M377.22 959.9L387.82 970.5M377.22 970.5L387.82 959.9" stroke="#ff0000" stroke-width="1.85"/><path d="M381.1 959.9L391.7 970.5M381.1 970.5L391.7 959.9" stroke="#fff" stroke-width="3.6"/><path d="M381.1 959.9L391.7 970.5M381.1 970.5L391.7 959.9" stroke="#ff0000" stroke-width="1.85"/><path d="M384.98 959.9L395.58 970.5M384.98 970.5L395.58 959.9" stroke="#fff" stroke-width="3.6"/><path d="M384.98 959.9L395.58 970.5M384.98 970.5L395.58 959.9" stroke="#ff0000" stroke-width="1.85"/><path d="M388.86 959.9L399.46 970.5M388.86 970.5L399.46 959.9" stroke="#fff" stroke-width="3.6"/><path d="M388.86 959.9L399.46 970.5M388.86 970.5L399.46 959.9" stroke="#ff0000" stroke-width="1.85"/><path d="M392.74 959.9L403.34 970.5M392.74 970.5L403.34 959.9" stroke="#fff" stroke-width="3.6"/><path d="M392.74 959.9L403.34 970.5M392.74 970.5L403.34 959.9" stroke="#ff0000" stroke-width="1.85"/><path d="M396.63 959.9L407.23 970.5M396.63 970.5L407.23 959.9" stroke="#fff" stroke-width="3.6"/><path d="M396.63 959.9L407.23 970.5M396.63 970.5L407.23 959.9" stroke="#ff0000" stroke-width="1.85"/><path d="M400.51 959.9L411.11 970.5M400.51 970.5L411.11 959.9" stroke="#fff" stroke-width="3.6"/><path d="M400.51 959.9L411.11 970.5M400.51 970.5L411.11 959.9" stroke="#ff0000" stroke-width="1.85"/><path d="M404.39 959.9L414.99 970.5M404.39 970.5L414.99 959.9" stroke="#fff" stroke-width="3.6"/><path d="M404.39 959.9L414.99 970.5M404.39 970.5L414.99 959.9" stroke="#ff0000" stroke-width="1.85"/><path d="M408.27 959.9L418.87 970.5M408.27 970.5L418.87 959.9" stroke="#fff" stroke-width="3.6"/><path d="M408.27 959.9L418.87 970.5M408.27 970.5L418.87 959.9" stroke="#ff0000" stroke-width="1.85"/><path d="M412.15 959.9L422.75 970.5M412.15 970.5L422.75 959.9" stroke="#fff" stroke-width="3.6"/><path d="M412.15 959.9L422.75 970.5M412.15 970.5L422.75 959.9" stroke="#ff0000" stroke-width="1.85"/><path d="M416.03 959.9L426.63 970.5M416.03 970.5L426.63 959.9" stroke="#fff" stroke-width="3.6"/><path d="M416.03 959.9L426.63 970.5M416.03 970.5L426.63 959.9" stroke="#ff0000" stroke-width="1.85"/><path d="M419.91 959.9L430.51 970.5M419.91 970.5L430.51 959.9" stroke="#fff" stroke-width="3.6"/><path d="M419.91 959.9L430.51 970.5M419.91 970.5L430.51 959.9" stroke="#ff0000" stroke-width="1.85"/><path d="M423.79 959.9L434.39 970.5M423.79 970.5L434.39 959.9" stroke="#fff" stroke-width="3.6"/><path d="M423.79 959.9L434.39 970.5M423.79 970.5L434.39 959.9" stroke="#ff0000" stroke-width="1.85"/><path d="M427.68 959.9L438.28 970.5M427.68 970.5L438.28 959.9" stroke="#fff" stroke-width="3.6"/><path d="M427.68 959.9L438.28 970.5M427.68 970.5L438.28 959.9" stroke="#ff0000" stroke-width="1.85"/><path d="M431.56 959.9L442.16 970.5M431.56 970.5L442.16 959.9" stroke="#fff" stroke-width="3.6"/><path d="M431.56 959.9L442.16 970.5M431.56 970.5L442.16 959.9" stroke="#ff0000" stroke-width="1.85"/><path d="M435.44 959.9L446.04 970.5M435.44 970.5L446.04 959.9" stroke="#fff" stroke-width="3.6"/><path d="M435.44 959.9L446.04 970.5M435.44 970.5L446.04 959.9" stroke="#ff0000" stroke-width="1.85"/><path d="M439.32 959.9L449.92 970.5M439.32 970.5L449.92 959.9" stroke="#fff" stroke-width="3.6"/><path d="M439.32 959.9L449.92 970.5M439.32 970.5L449.92 959.9" stroke="#ff0000" stroke-width="1.85"/><path d="M443.2 959.9L453.8 970.5M443.2 970.5L453.8 959.9" stroke="#fff" stroke-width="3.6"/><path d="M443.2 959.9L453.8 970.5M443.2 970.5L453.8 959.9" stroke="#ff0000" stroke-width="1.85"/><path d="M447.08 959.9L457.68 970.5M447.08 970.5L457.68 959.9" stroke="#fff" stroke-width="3.6"/><path d="M447.08 959.9L457.68 970.5M447.08 970.5L457.68 959.9" stroke="#ff0000" stroke-width="1.85"/><path d="M450.96 959.9L461.56 970.5M450.96 970.5L461.56 959.9" stroke="#fff" stroke-width="3.6"/><path d="M450.96 959.9L461.56 970.5M450.96 970.5L461.56 959.9" stroke="#ff0000" stroke-width="1.85"/><path d="M454.85 959.9L465.45 970.5M454.85 970.5L465.45 959.9" stroke="#fff" stroke-width="3.6"/><path d="M454.85 959.9L465.45 970.5M454.85 970.5L465.45 959.9" stroke="#ff0000" stroke-width="1.85"/><path d="M458.73 959.9L469.33 970.5M458.73 970.5L469.33 959.9" stroke="#fff" stroke-width="3.6"/><path d="M458.73 959.9L469.33 970.5M458.73 970.5L469.33 959.9" stroke="#ff0000" stroke-width="1.85"/><path d="M462.61 959.9L473.21 970.5M462.61 970.5L473.21 959.9" stroke="#fff" stroke-width="3.6"/><path d="M462.61 959.9L473.21 970.5M462.61 970.5L473.21 959.9" stroke="#ff0000" stroke-width="1.85"/><path d="M466.49 959.9L477.09 970.5M466.49 970.5L477.09 959.9" stroke="#fff" stroke-width="3.6"/><path d="M466.49 959.9L477.09 970.5M466.49 970.5L477.09 959.9" stroke="#ff0000" stroke-width="1.85"/><path d="M470.37 959.9L480.97 970.5M470.37 970.5L480.97 959.9" stroke="#fff" stroke-width="3.6"/><path d="M470.37 959.9L480.97 970.5M470.37 970.5L480.97 959.9" stroke="#ff0000" stroke-width="1.85"/><path d="M474.25 959.9L484.85 970.5M474.25 970.5L484.85 959.9" stroke="#fff" stroke-width="3.6"/><path d="M474.25 959.9L484.85 970.5M474.25 970.5L484.85 959.9" stroke="#ff0000" stroke-width="1.85"/><path d="M478.13 959.9L488.73 970.5M478.13 970.5L488.73 959.9" stroke="#fff" stroke-width="3.6"/><path d="M478.13 959.9L488.73 970.5M478.13 970.5L488.73 959.9" stroke="#ff0000" stroke-width="1.85"/><path d="M482.01 959.9L492.61 970.5M482.01 970.5L492.61 959.9" stroke="#fff" stroke-width="3.6"/><path d="M482.01 959.9L492.61 970.5M482.01 970.5L492.61 959.9" stroke="#ff0000" stroke-width="1.85"/><path d="M485.9 959.9L496.5 970.5M485.9 970.5L496.5 959.9" stroke="#fff" stroke-width="3.6"/><path d="M485.9 959.9L496.5 970.5M485.9 970.5L496.5 959.9" stroke="#ff0000" stroke-width="1.85"/><path d="M489.78 959.9L500.38 970.5M489.78 970.5L500.38 959.9" stroke="#fff" stroke-width="3.6"/><path d="M489.78 959.9L500.38 970.5M489.78 970.5L500.38 959.9" stroke="#ff0000" stroke-width="1.85"/><path d="M493.66 959.9L504.26 970.5M493.66 970.5L504.26 959.9" stroke="#fff" stroke-width="3.6"/><path d="M493.66 959.9L504.26 970.5M493.66 970.5L504.26 959.9" stroke="#ff0000" stroke-width="1.85"/><path d="M497.54 959.9L508.14 970.5M497.54 970.5L508.14 959.9" stroke="#fff" stroke-width="3.6"/><path d="M497.54 959.9L508.14 970.5M497.54 970.5L508.14 959.9" stroke="#ff0000" stroke-width="1.85"/><path d="M501.42 959.9L512.02 970.5M501.42 970.5L512.02 959.9" stroke="#fff" stroke-width="3.6"/><path d="M501.42 959.9L512.02 970.5M501.42 970.5L512.02 959.9" stroke="#ff0000" stroke-width="1.85"/><path d="M505.3 958.79L515.9 969.39M505.3 969.39L515.9 958.79" stroke="#fff" stroke-width="3.6"/><path d="M505.3 958.79L515.9 969.39M505.3 969.39L515.9 958.79" stroke="#ff0000" stroke-width="1.85"/><path d="M509.18 956.25L519.78 966.85M509.18 966.85L519.78 956.25" stroke="#fff" stroke-width="3.6"/><path d="M509.18 956.25L519.78 966.85M509.18 966.85L519.78 956.25" stroke="#ff0000" stroke-width="1.85"/><path d="M513.07 953.2L523.67 963.8M513.07 963.8L523.67 953.2" stroke="#fff" stroke-width="3.6"/><path d="M513.07 953.2L523.67 963.8M513.07 963.8L523.67 953.2" stroke="#ff0000" stroke-width="1.85"/><path d="M516.95 950.54L527.55 961.14M516.95 961.14L527.55 950.54" stroke="#fff" stroke-width="3.6"/><path d="M516.95 950.54L527.55 961.14M516.95 961.14L527.55 950.54" stroke="#ff0000" stroke-width="1.85"/><path d="M520.83 948.19L531.43 958.79M520.83 958.79L531.43 948.19" stroke="#fff" stroke-width="3.6"/><path d="M520.83 948.19L531.43 958.79M520.83 958.79L531.43 948.19" stroke="#ff0000" stroke-width="1.85"/><path d="M524.71 946.89L535.31 957.49M524.71 957.49L535.31 946.89" stroke="#fff" stroke-width="3.6"/><path d="M524.71 946.89L535.31 957.49M524.71 957.49L535.31 946.89" stroke="#ff0000" stroke-width="1.85"/><path d="M528.59 946.83L539.19 957.43M528.59 957.43L539.19 946.83" stroke="#fff" stroke-width="3.6"/><path d="M528.59 946.83L539.19 957.43M528.59 957.43L539.19 946.83" stroke="#ff0000" stroke-width="1.85"/><path d="M532.47 946.78L543.07 957.38M532.47 957.38L543.07 946.78" stroke="#fff" stroke-width="3.6"/><path d="M532.47 946.78L543.07 957.38M532.47 957.38L543.07 946.78" stroke="#ff0000" stroke-width="1.85"/><path d="M536.35 946.73L546.95 957.33M536.35 957.33L546.95 946.73" stroke="#fff" stroke-width="3.6"/><path d="M536.35 946.73L546.95 957.33M536.35 957.33L546.95 946.73" stroke="#ff0000" stroke-width="1.85"/><path d="M540.23 946.68L550.83 957.28M540.23 957.28L550.83 946.68" stroke="#fff" stroke-width="3.6"/><path d="M540.23 946.68L550.83 957.28M540.23 957.28L550.83 946.68" stroke="#ff0000" stroke-width="1.85"/><path d="M544.12 946.63L554.72 957.23M544.12 957.23L554.72 946.63" stroke="#fff" stroke-width="3.6"/><path d="M544.12 946.63L554.72 957.23M544.12 957.23L554.72 946.63" stroke="#ff0000" stroke-width="1.85"/><path d="M548 946.58L558.6 957.18M548 957.18L558.6 946.58" stroke="#fff" stroke-width="3.6"/><path d="M548 946.58L558.6 957.18M548 957.18L558.6 946.58" stroke="#ff0000" stroke-width="1.85"/><path d="M551.88 946.52L562.48 957.12M551.88 957.12L562.48 946.52" stroke="#fff" stroke-width="3.6"/><path d="M551.88 946.52L562.48 957.12M551.88 957.12L562.48 946.52" stroke="#ff0000" stroke-width="1.85"/><path d="M555.76 946.5L566.36 957.1M555.76 957.1L566.36 946.5" stroke="#fff" stroke-width="3.6"/><path d="M555.76 946.5L566.36 957.1M555.76 957.1L566.36 946.5" stroke="#ff0000" stroke-width="1.85"/><path d="M559.64 946.5L570.24 957.1M559.64 957.1L570.24 946.5" stroke="#fff" stroke-width="3.6"/><path d="M559.64 946.5L570.24 957.1M559.64 957.1L570.24 946.5" stroke="#ff0000" stroke-width="1.85"/><path d="M563.52 946.5L574.12 957.1M563.52 957.1L574.12 946.5" stroke="#fff" stroke-width="3.6"/><path d="M563.52 946.5L574.12 957.1M563.52 957.1L574.12 946.5" stroke="#ff0000" stroke-width="1.85"/><path d="M567.4 946.5L578 957.1M567.4 957.1L578 946.5" stroke="#fff" stroke-width="3.6"/><path d="M567.4 946.5L578 957.1M567.4 957.1L578 946.5" stroke="#ff0000" stroke-width="1.85"/><path d="M571.29 945.87L581.89 956.47M571.29 956.47L581.89 945.87" stroke="#fff" stroke-width="3.6"/><path d="M571.29 945.87L581.89 956.47M571.29 956.47L581.89 945.87" stroke="#ff0000" stroke-width="1.85"/><path d="M575.17 944.31L585.77 954.91M575.17 954.91L585.77 944.31" stroke="#fff" stroke-width="3.6"/><path d="M575.17 944.31L585.77 954.91M575.17 954.91L585.77 944.31" stroke="#ff0000" stroke-width="1.85"/><path d="M579.05 942.36L589.65 952.96M579.05 952.96L589.65 942.36" stroke="#fff" stroke-width="3.6"/><path d="M579.05 942.36L589.65 952.96M579.05 952.96L589.65 942.36" stroke="#ff0000" stroke-width="1.85"/><path d="M582.93 940.14L593.53 950.74M582.93 950.74L593.53 940.14" stroke="#fff" stroke-width="3.6"/><path d="M582.93 940.14L593.53 950.74M582.93 950.74L593.53 940.14" stroke="#ff0000" stroke-width="1.85"/><path d="M586.81 938.14L597.41 948.74M586.81 948.74L597.41 938.14" stroke="#fff" stroke-width="3.6"/><path d="M586.81 938.14L597.41 948.74M586.81 948.74L597.41 938.14" stroke="#ff0000" stroke-width="1.85"/><path d="M590.69 936.2L601.29 946.8M590.69 946.8L601.29 936.2" stroke="#fff" stroke-width="3.6"/><path d="M590.69 936.2L601.29 946.8M590.69 946.8L601.29 936.2" stroke="#ff0000" stroke-width="1.85"/><path d="M594.57 934.91L605.17 945.51M594.57 945.51L605.17 934.91" stroke="#fff" stroke-width="3.6"/><path d="M594.57 934.91L605.17 945.51M594.57 945.51L605.17 934.91" stroke="#ff0000" stroke-width="1.85"/><path d="M598.45 934.16L609.05 944.76M598.45 944.76L609.05 934.16" stroke="#fff" stroke-width="3.6"/><path d="M598.45 934.16L609.05 944.76M598.45 944.76L609.05 934.16" stroke="#ff0000" stroke-width="1.85"/><path d="M602.34 934.07L612.94 944.67M602.34 944.67L612.94 934.07" stroke="#fff" stroke-width="3.6"/><path d="M602.34 934.07L612.94 944.67M602.34 944.67L612.94 934.07" stroke="#ff0000" stroke-width="1.85"/><path d="M606.22 933.98L616.82 944.58M606.22 944.58L616.82 933.98" stroke="#fff" stroke-width="3.6"/><path d="M606.22 933.98L616.82 944.58M606.22 944.58L616.82 933.98" stroke="#ff0000" stroke-width="1.85"/><path d="M610.1 933.89L620.7 944.49M610.1 944.49L620.7 933.89" stroke="#fff" stroke-width="3.6"/><path d="M610.1 933.89L620.7 944.49M610.1 944.49L620.7 933.89" stroke="#ff0000" stroke-width="1.85"/><path d="M613.98 933.8L624.58 944.4M613.98 944.4L624.58 933.8" stroke="#fff" stroke-width="3.6"/><path d="M613.98 933.8L624.58 944.4M613.98 944.4L624.58 933.8" stroke="#ff0000" stroke-width="1.85"/><path d="M617.86 933.71L628.46 944.31M617.86 944.31L628.46 933.71" stroke="#fff" stroke-width="3.6"/><path d="M617.86 933.71L628.46 944.31M617.86 944.31L628.46 933.71" stroke="#ff0000" stroke-width="1.85"/><path d="M621.74 933.62L632.34 944.22M621.74 944.22L632.34 933.62" stroke="#fff" stroke-width="3.6"/><path d="M621.74 933.62L632.34 944.22M621.74 944.22L632.34 933.62" stroke="#ff0000" stroke-width="1.85"/><path d="M625.62 933.53L636.22 944.13M625.62 944.13L636.22 933.53" stroke="#fff" stroke-width="3.6"/><path d="M625.62 933.53L636.22 944.13M625.62 944.13L636.22 933.53" stroke="#ff0000" stroke-width="1.85"/><path d="M629.51 932.38L640.11 942.98M629.51 942.98L640.11 932.38" stroke="#fff" stroke-width="3.6"/><path d="M629.51 932.38L640.11 942.98M629.51 942.98L640.11 932.38" stroke="#ff0000" stroke-width="1.85"/><path d="M633.39 930.83L643.99 941.43M633.39 941.43L643.99 930.83" stroke="#fff" stroke-width="3.6"/><path d="M633.39 930.83L643.99 941.43M633.39 941.43L643.99 930.83" stroke="#ff0000" stroke-width="1.85"/><path d="M637.27 929.07L647.87 939.67M637.27 939.67L647.87 929.07" stroke="#fff" stroke-width="3.6"/><path d="M637.27 929.07L647.87 939.67M637.27 939.67L647.87 929.07" stroke="#ff0000" stroke-width="1.85"/><path d="M641.15 927.32L651.75 937.92M641.15 937.92L651.75 927.32" stroke="#fff" stroke-width="3.6"/><path d="M641.15 927.32L651.75 937.92M641.15 937.92L651.75 927.32" stroke="#ff0000" stroke-width="1.85"/><path d="M645.03 925.77L655.63 936.37M645.03 936.37L655.63 925.77" stroke="#fff" stroke-width="3.6"/><path d="M645.03 925.77L655.63 936.37M645.03 936.37L655.63 925.77" stroke="#ff0000" stroke-width="1.85"/><path d="M648.91 924.25L659.51 934.85M648.91 934.85L659.51 924.25" stroke="#fff" stroke-width="3.6"/><path d="M648.91 924.25L659.51 934.85M648.91 934.85L659.51 924.25" stroke="#ff0000" stroke-width="1.85"/><path d="M652.79 922.82L663.39 933.42M652.79 933.42L663.39 922.82" stroke="#fff" stroke-width="3.6"/><path d="M652.79 922.82L663.39 933.42M652.79 933.42L663.39 922.82" stroke="#ff0000" stroke-width="1.85"/><path d="M656.67 921.58L667.27 932.18M656.67 932.18L667.27 921.58" stroke="#fff" stroke-width="3.6"/><path d="M656.67 921.58L667.27 932.18M656.67 932.18L667.27 921.58" stroke="#ff0000" stroke-width="1.85"/><path d="M660.56 920.56L671.16 931.16M660.56 931.16L671.16 920.56" stroke="#fff" stroke-width="3.6"/><path d="M660.56 920.56L671.16 931.16M660.56 931.16L671.16 920.56" stroke="#ff0000" stroke-width="1.85"/><path d="M664.44 919.94L675.04 930.54M664.44 930.54L675.04 919.94" stroke="#fff" stroke-width="3.6"/><path d="M664.44 919.94L675.04 930.54M664.44 930.54L675.04 919.94" stroke="#ff0000" stroke-width="1.85"/><path d="M668.32 919.63L678.92 930.23M668.32 930.23L678.92 919.63" stroke="#fff" stroke-width="3.6"/><path d="M668.32 919.63L678.92 930.23M668.32 930.23L678.92 919.63" stroke="#ff0000" stroke-width="1.85"/><path d="M672.2 919.34L682.8 929.94M672.2 929.94L682.8 919.34" stroke="#fff" stroke-width="3.6"/><path d="M672.2 919.34L682.8 929.94M672.2 929.94L682.8 919.34" stroke="#ff0000" stroke-width="1.85"/></g><rect x="95.3" y="787.2" width="582.2" height="581.8" fill="none" stroke="#000" stroke-width="3.3"/><path d="M95.3 1369V1378M95.3 787.2V796.2M192.33 1369V1378M192.33 787.2V796.2M289.37 1369V1378M289.37 787.2V796.2M386.4 1369V1378M386.4 787.2V796.2M483.43 1369V1378M483.43 787.2V796.2M580.47 1369V1378M580.47 787.2V796.2M677.5 1369V1378M677.5 787.2V796.2M95.3 787.2H104.3M677.5 787.2H668.5M95.3 884.17H104.3M677.5 884.17H668.5M95.3 981.13H104.3M677.5 981.13H668.5M95.3 1078.1H104.3M677.5 1078.1H668.5M95.3 1175.07H104.3M677.5 1175.07H668.5M95.3 1272.03H104.3M677.5 1272.03H668.5M95.3 1369H104.3M677.5 1369H668.5" stroke="#000" stroke-width="3.3" stroke-linecap="round" fill="none"/><text x="95.3" y="1410" font-size="24.3" text-anchor="middle">0</text><text x="192.33" y="1410" font-size="24.3" text-anchor="middle">0.5</text><text x="289.37" y="1410" font-size="24.3" text-anchor="middle">1</text><text x="386.4" y="1410" font-size="24.3" text-anchor="middle">1.5</text><text x="483.43" y="1410" font-size="24.3" text-anchor="middle">2</text><text x="580.47" y="1410" font-size="24.3" text-anchor="middle">2.5</text><text x="677.5" y="1410" font-size="24.3" text-anchor="middle">3</text><text x="84.6" y="795.6" font-size="24.3" text-anchor="end">0.28</text><text x="84.6" y="892.57" font-size="24.3" text-anchor="end">0.24</text><text x="84.6" y="989.53" font-size="24.3" text-anchor="end">0.2</text><text x="84.6" y="1086.5" font-size="24.3" text-anchor="end">0.16</text><text x="84.6" y="1183.47" font-size="24.3" text-anchor="end">0.12</text><text x="84.6" y="1280.43" font-size="24.3" text-anchor="end">0.08</text><text x="84.6" y="1377.4" font-size="24.3" text-anchor="end">0.04</text><text x="346.3" y="764.9" font-size="29.5" text-anchor="middle">b- Lake volume</text><text x="387" y="1439.6" font-size="26.8" text-anchor="middle">Time (hr)</text><text transform="translate(32,1080.7) rotate(-90)" font-size="26.8" text-anchor="middle">Lake volume (mcm)</text><text x="304.2" y="1265.9" font-size="24.1" text-anchor="start">Legend</text><text x="296.4" y="1297.8" font-size="24.1" text-anchor="start">Compacted Soil</text><text x="296.2" y="1329.2" font-size="24.1" text-anchor="start">RipRap</text><circle cx="237.2" cy="1290.3" r="6.85" fill="#1e8cff"/><circle cx="257.7" cy="1290.3" r="6.85" fill="#1e8cff"/><circle cx="278.2" cy="1290.3" r="6.85" fill="#1e8cff"/><path d="M231.6 1316.6L242.2 1327.2M231.6 1327.2L242.2 1316.6M252.5 1316.6L263.1 1327.2M252.5 1327.2L263.1 1316.6M273.3 1316.6L283.9 1327.2M273.3 1327.2L283.9 1316.6" stroke="#ff0000" stroke-width="1.85" fill="none"/></svg></body></html>
